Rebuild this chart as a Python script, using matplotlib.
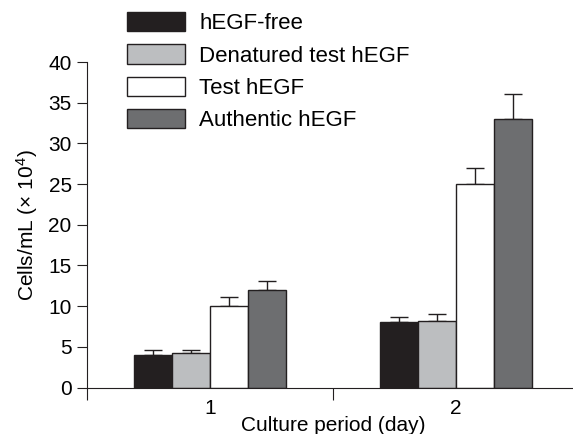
import numpy as np
import matplotlib
matplotlib.use("Agg")
import matplotlib.pyplot as plt

plt.rcParams['font.family'] = ['Liberation Sans', 'DejaVu Sans']
plt.rcParams['mathtext.fontset'] = 'custom'
plt.rcParams['mathtext.rm'] = 'Liberation Sans'
plt.rcParams['mathtext.it'] = 'Liberation Sans:italic'

days = ['1', '2']
series = ['hEGF-free', 'Denatured test hEGF', 'Test hEGF', 'Authentic hEGF']
means = [[4.0, 8.1],
         [4.3, 8.2],
         [10.0, 25.0],
         [12.0, 33.0]]
errs = [[0.6, 0.6],
        [0.3, 0.8],
        [1.1, 2.0],
        [1.1, 3.1]]
colors = ['#231f20', '#bcbec0', '#ffffff', '#6d6e70']
ink = '#231f20'

fig = plt.figure(figsize=(5.73, 4.34), dpi=100)
ax = fig.add_axes([0.1518, 0.1071, 0.8586, 0.750])

w = 0.155
centers = np.array([0.5, 1.5])
for i in range(4):
    x = centers + (i - 1.5) * w
    ax.bar(x, means[i], width=w, color=colors[i], edgecolor=ink,
           linewidth=1.0, label=series[i], zorder=2)
    ax.errorbar(x, means[i], yerr=[np.zeros(2), errs[i]], fmt='none',
                ecolor=ink, elinewidth=1.0, capsize=6.5, capthick=1.0, zorder=1)

ax.set_xlim(0, 2)
ax.set_ylim(0, 40)
ax.set_yticks(range(0, 41, 5))
ax.set_xticks([0, 1, 2])
ax.set_xticklabels(['', '', ''])
ax.set_xticks(centers, minor=True)
ax.set_xticklabels(days, minor=True)
ax.tick_params(axis='x', which='major', direction='out', length=8.5, width=0.8, color=ink)
ax.tick_params(axis='x', which='minor', length=0, pad=8.5, labelsize=15)
ax.tick_params(axis='y', direction='out', length=7, width=0.8, color=ink, pad=4, labelsize=15)
ax.spines['top'].set_visible(False)
ax.spines['right'].set_visible(False)
for s in ['left', 'bottom']:
    ax.spines[s].set_linewidth(0.8)
    ax.spines[s].set_color(ink)
    ax.spines[s].set_clip_on(False)

ax.set_ylabel('Cells/mL ($\\times$ 10$^4$)', fontsize=15, labelpad=6)
ax.set_xlabel('Culture period (day)', fontsize=15, labelpad=-2)

fig.legend(loc='upper left', bbox_to_anchor=(0.2216, 0.972), frameon=False,
           fontsize=16, handlelength=2.6, handleheight=0.95, labelspacing=0.45,
           handletextpad=0.65, borderpad=0, borderaxespad=0)

fig.savefig('out.png', dpi=100)
